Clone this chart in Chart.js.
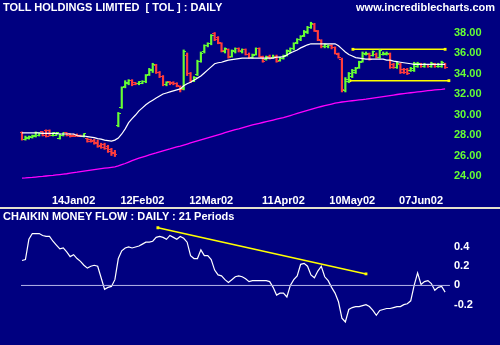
<!DOCTYPE html>
<html>
<head>
<meta charset="utf-8">
<script src="https://cdn.jsdelivr.net/npm/chart.js@4.4.1/dist/chart.umd.min.js"></script>
<style>
  body { margin: 0; background: #000080; }
  #wrap { position: relative; width: 500px; height: 345px; background: #000080; overflow: hidden; }
  canvas { position: absolute; left: 0; }
  .t { position: absolute; color: #fff; font: bold 11px "Liberation Sans", Arial, sans-serif; white-space: pre; line-height: 12px; }
</style>
</head>
<body>
<div id="wrap">
  <canvas id="priceChart" width="500" height="208" style="top:0"></canvas>
  <div style="position:absolute;left:0;top:207px;width:500px;height:2px;background:#e4e0cc"></div>
  <canvas id="cmfChart" width="500" height="136" style="top:209px"></canvas>
  <div class="t" style="left:3px;top:1px">TOLL HOLDINGS LIMITED  [ TOL ] : DAILY</div>
  <div class="t" style="right:5px;top:1px">www.incrediblecharts.com</div>
  <div class="t" style="left:3px;top:210px">CHAIKIN MONEY FLOW : DAILY : 21 Periods</div>
</div>
<script>
// bar index of each date label, and the labels
const dateIdx = [15, 35, 55, 76, 96, 116];
const dateLabels = ['14Jan02', '12Feb02', '12Mar02', '11Apr02', '10May02', '07Jun02'];
const priceTicks = [24, 26, 28, 30, 32, 34, 36, 38];
const cmfTicks = [-0.2, 0, 0.2, 0.4];

// daily bars, one per trading day
const high = [28.3,27.9,27.9,28.0,28.3,28.2,28.3,28.5,28.5,28.2,
  28.2,28.1,28.2,28.2,28.1,28.1,28.1,28.0,28.1,27.7,
  27.6,27.6,27.5,27.2,27.2,27.0,26.7,26.5,30.2,32.7,
  33.3,33.4,33.4,33.1,33.2,33.3,33.9,34.5,35.0,34.9,
  34.2,33.8,33.2,33.2,33.2,33.1,32.8,36.3,36.0,34.1,
  33.7,35.3,36.1,36.8,37.0,37.8,38.0,37.6,37.0,36.5,
  36.4,36.3,36.5,36.5,36.4,36.4,36.0,35.9,36.5,36.5,
  35.7,35.7,35.8,35.8,35.8,35.6,35.8,36.3,36.5,37.0,
  37.4,37.7,38.2,38.6,39.0,38.9,38.2,37.3,36.9,36.8,
  36.8,36.6,36.0,35.5,33.6,34.1,34.4,34.6,35.2,36.1,
  36.1,36.0,36.2,36.0,36.3,36.1,36.1,36.0,35.0,35.1,
  35.0,34.5,34.5,34.6,35.1,35.1,35.0,35.0,34.9,35.1,
  35.0,35.0,35.2,35.0];
const low = [27.5,27.5,27.6,27.7,27.8,27.9,27.9,27.8,27.9,27.9,
  28.0,27.6,27.9,27.9,27.8,27.9,27.9,27.9,27.8,27.3,
  27.3,27.1,26.8,26.7,26.6,26.3,26.0,25.9,28.8,30.6,
  32.6,32.9,32.8,32.9,32.9,33.0,33.1,33.8,34.1,34.0,
  33.6,32.8,32.8,32.9,32.9,32.7,32.2,32.4,33.8,33.1,
  33.2,33.8,35.1,36.0,36.6,36.8,37.2,36.9,36.1,36.0,
  35.5,35.6,36.0,36.1,36.0,35.8,35.5,35.5,35.8,35.6,
  35.1,35.3,35.4,35.5,35.1,35.2,35.4,35.7,36.0,36.3,
  36.9,37.2,37.6,37.9,38.4,38.1,37.2,36.5,36.5,36.5,
  36.4,35.9,35.5,32.2,32.2,33.1,33.6,34.0,34.5,35.1,
  35.8,35.3,35.7,35.5,35.5,35.8,35.8,34.5,34.5,34.5,
  34.0,34.0,33.9,34.2,34.2,34.6,34.6,34.6,34.6,34.6,
  34.6,34.6,34.6,34.5];
const open = [28.2,27.6,27.7,27.8,27.9,28.0,28.3,28.4,28.4,28.0,
  28.0,27.7,28.0,28.2,28.1,28.0,28.0,28.0,27.9,27.7,
  27.6,27.5,27.3,27.0,27.1,26.9,26.6,26.3,28.9,30.7,
  32.7,33.0,33.3,33.1,33.0,33.0,33.2,33.9,34.3,34.8,
  34.1,33.7,32.9,33.2,33.1,33.0,32.7,32.5,35.8,34.0,
  33.3,33.9,35.2,36.1,36.7,36.9,37.9,37.5,36.9,36.1,
  36.3,35.7,36.1,36.4,36.1,36.3,35.9,35.6,35.9,36.4,
  35.6,35.4,35.7,35.6,35.7,35.3,35.5,35.8,36.1,36.4,
  37.0,37.3,37.7,38.0,38.5,38.8,38.1,37.2,36.6,36.6,
  36.7,36.5,35.9,35.4,32.3,33.2,33.7,34.1,34.6,35.2,
  35.9,35.9,35.8,35.9,35.6,35.9,35.9,35.9,34.9,34.6,
  34.9,34.4,34.4,34.3,34.3,34.7,34.9,34.7,34.9,34.7,
  34.9,34.7,34.7,34.9];
const close = [27.6,27.8,27.9,28.0,28.2,28.1,28.0,27.9,28.0,28.2,
  28.2,28.0,28.2,28.0,27.9,27.9,27.9,27.9,28.1,27.4,
  27.4,27.2,26.9,26.8,26.7,26.4,26.2,26.1,30.1,32.6,
  33.1,33.3,32.9,33.0,33.2,33.2,33.8,34.4,34.9,34.1,
  33.7,32.9,33.1,33.0,33.0,32.8,32.4,36.1,34.0,33.3,
  33.6,35.2,36.0,36.7,36.9,37.7,37.3,37.0,36.2,36.4,
  35.6,36.2,36.4,36.2,36.3,35.9,35.6,35.8,36.4,35.7,
  35.2,35.6,35.5,35.7,35.2,35.5,35.7,36.2,36.4,36.9,
  37.3,37.6,38.1,38.5,38.9,38.2,37.3,36.6,36.8,36.7,
  36.5,36.0,35.6,32.4,33.4,34.0,34.3,34.5,35.1,36.0,
  36.0,35.4,36.1,35.6,36.2,36.0,36.0,34.6,34.6,35.0,
  34.1,34.1,34.0,34.5,35.0,35.0,34.7,34.9,34.7,35.0,
  34.7,34.9,35.1,34.6];

// 21 day moving average (white) and long moving average (magenta)
const maShort = [28.20,28.20,28.20,28.20,28.20,28.20,28.15,28.15,28.15,28.15,
  28.15,28.10,28.10,28.10,28.10,28.10,27.95,27.90,27.90,27.85,
  27.80,27.75,27.65,27.60,27.50,27.45,27.40,27.50,27.70,28.10,
  28.60,29.20,29.60,29.95,30.35,30.65,30.95,31.20,31.40,31.60,
  31.80,32.00,32.10,32.20,32.30,32.40,32.50,32.80,33.00,33.15,
  33.35,33.55,33.75,34.05,34.35,34.65,34.95,35.05,35.10,35.20,
  35.30,35.35,35.40,35.45,35.50,35.50,35.50,35.50,35.50,35.50,
  35.50,35.50,35.50,35.50,35.60,35.60,35.65,35.80,36.00,36.15,
  36.30,36.50,36.65,36.80,36.90,36.90,36.90,36.90,36.90,36.90,
  36.90,36.90,36.70,36.40,36.10,35.85,35.70,35.55,35.50,35.45,
  35.40,35.40,35.40,35.40,35.40,35.40,35.30,35.30,35.20,35.15,
  35.10,35.05,35.00,34.95,34.90,34.90,34.90,34.90,34.90,34.90,
  34.90,34.90,34.90,34.90];
const maLong = [23.80,23.82,23.85,23.87,23.90,23.93,23.96,24.00,24.03,24.06,
  24.10,24.14,24.18,24.22,24.28,24.33,24.37,24.42,24.47,24.52,
  24.57,24.62,24.67,24.72,24.76,24.80,24.84,24.88,24.98,25.10,
  25.22,25.36,25.50,25.62,25.74,25.85,25.95,26.05,26.15,26.25,
  26.36,26.46,26.56,26.64,26.74,26.83,26.92,27.02,27.12,27.22,
  27.32,27.42,27.52,27.62,27.72,27.82,27.92,28.02,28.12,28.22,
  28.32,28.42,28.52,28.60,28.70,28.80,28.90,28.98,29.06,29.14,
  29.22,29.30,29.38,29.46,29.54,29.62,29.70,29.80,29.90,30.00,
  30.10,30.20,30.30,30.40,30.50,30.60,30.70,30.78,30.86,30.94,
  31.02,31.10,31.16,31.22,31.26,31.30,31.34,31.38,31.42,31.46,
  31.50,31.55,31.60,31.65,31.70,31.75,31.80,31.85,31.90,31.95,
  32.00,32.04,32.08,32.12,32.16,32.20,32.24,32.28,32.32,32.36,
  32.40,32.43,32.46,32.50];

// Chaikin money flow, 21 periods
const cmf = [0.26,0.27,0.48,0.54,0.54,0.54,0.52,0.51,0.51,0.46,
  0.42,0.38,0.39,0.35,0.30,0.32,0.28,0.25,0.21,0.18,
  0.20,0.21,0.20,0.08,-0.04,-0.02,-0.01,0.06,0.28,0.36,
  0.39,0.40,0.39,0.40,0.41,0.43,0.45,0.45,0.46,0.50,
  0.51,0.50,0.48,0.52,0.50,0.48,0.51,0.49,0.45,0.31,
  0.28,0.28,0.37,0.31,0.31,0.27,0.16,0.11,0.10,0.06,
  0.03,0.06,0.09,0.10,0.09,0.07,0.04,0.05,0.05,0.05,
  0.05,0.05,0.04,-0.02,-0.10,-0.08,-0.08,-0.12,0.00,0.06,
  0.10,0.22,0.23,0.20,0.11,0.08,0.15,0.20,0.09,0.05,
  -0.02,-0.08,-0.17,-0.34,-0.38,-0.25,-0.23,-0.22,-0.22,-0.21,
  -0.20,-0.22,-0.26,-0.31,-0.26,-0.25,-0.24,-0.24,-0.23,-0.22,
  -0.22,-0.20,-0.19,-0.16,0.00,0.13,0.01,0.04,0.05,0.02,
  -0.05,-0.02,-0.01,-0.07];

// drawn lines: [startIndex, startValue, endIndex, endValue]
const resistance = [96.2, 36.36, 123.0, 36.36];
const support = [95.3, 33.3, 124.1, 33.3];
const cmfTrend = [39.5, 0.60, 100.0, 0.12];

const GREEN = '#66ff33';
const RED = '#ff3c3c';
const XMIN = -1.163, XMAX = 125.0;
const font = { family: '"Liberation Sans", Arial, sans-serif', size: 11, weight: 'bold' };

Chart.defaults.font.family = font.family;
Chart.defaults.animation = false;

function tickImg(color, left) {
    const c = document.createElement('canvas');
    c.width = 5; c.height = 1;
    const g = c.getContext('2d');
    g.fillStyle = color;
    g.fillRect(left ? 0 : 2, 0, 3, 1);
    return c;
}
const img = {
    gL: tickImg(GREEN, true), gR: tickImg(GREEN, false),
    rL: tickImg(RED, true), rR: tickImg(RED, false)
};
const isUp = i => close[i] >= open[i];
const seg = a => [{x: a[0], y: a[1]}, {x: a[2], y: a[3]}];

new Chart(document.getElementById('priceChart'), {
    type: 'bar',
    data: {
        datasets: [
            {
                type: 'line', data: maLong.map((v, i) => ({x: i, y: v})),
                borderColor: '#ff00ff', borderWidth: 1.3, pointRadius: 0
            },
            {
                type: 'line', data: maShort.map((v, i) => ({x: i, y: v})),
                borderColor: '#ffffff', borderWidth: 1.2, pointRadius: 0
            },
            {
                type: 'bar', data: high.map((h, i) => ({x: i, y: [low[i], h]})),
                backgroundColor: high.map((h, i) => isUp(i) ? GREEN : RED),
                barThickness: 1.5, grouped: false
            },
            {
                type: 'line', showLine: false, data: open.map((v, i) => ({x: i, y: v})),
                pointStyle: ctx => isUp(ctx.dataIndex) ? img.gL : img.rL
            },
            {
                type: 'line', showLine: false, data: close.map((v, i) => ({x: i, y: v})),
                pointStyle: ctx => isUp(ctx.dataIndex) ? img.gR : img.rR
            },
            {
                type: 'line', data: seg(resistance), borderColor: '#ffff00', borderWidth: 1.5,
                pointStyle: 'rect', pointRadius: 2, pointBackgroundColor: '#ffff00', pointBorderWidth: 0
            },
            {
                type: 'line', data: seg(support), borderColor: '#ffff00', borderWidth: 1.5,
                pointStyle: 'rect', pointRadius: 2, pointBackgroundColor: '#ffff00', pointBorderWidth: 0
            }
        ]
    },
    options: {
        responsive: false,
        events: [],
        layout: { padding: { left: 18, top: 14, right: 0, bottom: 0 } },
        plugins: { legend: { display: false }, tooltip: { enabled: false } },
        scales: {
            x: {
                type: 'linear', min: XMIN, max: XMAX, offset: false,
                grid: { display: false, drawTicks: false, offset: false }, border: { display: false },
                ticks: {
                    color: '#ffffff', font: font, padding: 6, maxRotation: 0, autoSkip: false,
                    callback: (v, i) => dateLabels[i]
                },
                afterBuildTicks: s => { s.ticks = dateIdx.map(v => ({value: v})); },
                afterFit: s => { s.height = 20; }
            },
            y: {
                position: 'right', min: 38 - 155.5 / 10.25, max: 38 + 18.5 / 10.25,
                grid: { display: false, drawTicks: false }, border: { display: false },
                ticks: { color: GREEN, font: font, padding: 2, callback: v => v.toFixed(2) },
                afterBuildTicks: s => { s.ticks = priceTicks.map(v => ({value: v})); },
                afterFit: s => { s.width = 48; }
            }
        }
    }
});

new Chart(document.getElementById('cmfChart'), {
    type: 'line',
    data: {
        datasets: [
            {
                data: [{x: -0.29, y: 0}, {x: 124.4, y: 0}],
                borderColor: '#b4b4e8', borderWidth: 1, pointRadius: 0
            },
            {
                data: cmf.map((v, i) => ({x: i, y: v})),
                borderColor: '#ffffff', borderWidth: 1.2, pointRadius: 0
            },
            {
                data: seg(cmfTrend), borderColor: '#ffff00', borderWidth: 1.5,
                pointStyle: 'rect', pointRadius: 2, pointBackgroundColor: '#ffff00', pointBorderWidth: 0
            }
        ]
    },
    options: {
        responsive: false,
        events: [],
        layout: { padding: { left: 18, top: 13, right: 0, bottom: 4 } },
        plugins: { legend: { display: false }, tooltip: { enabled: false } },
        scales: {
            x: { type: 'linear', min: XMIN, max: XMAX, offset: false, display: false },
            y: {
                position: 'right', min: -0.53, max: 0.66,
                grid: { display: false, drawTicks: false }, border: { display: false },
                ticks: { color: '#ffffff', font: font, padding: 2, callback: v => v === 0 ? '0' : String(v) },
                afterBuildTicks: s => { s.ticks = cmfTicks.map(v => ({value: v})); },
                afterFit: s => { s.width = 48; }
            }
        }
    }
});
</script>
</body>
</html>
